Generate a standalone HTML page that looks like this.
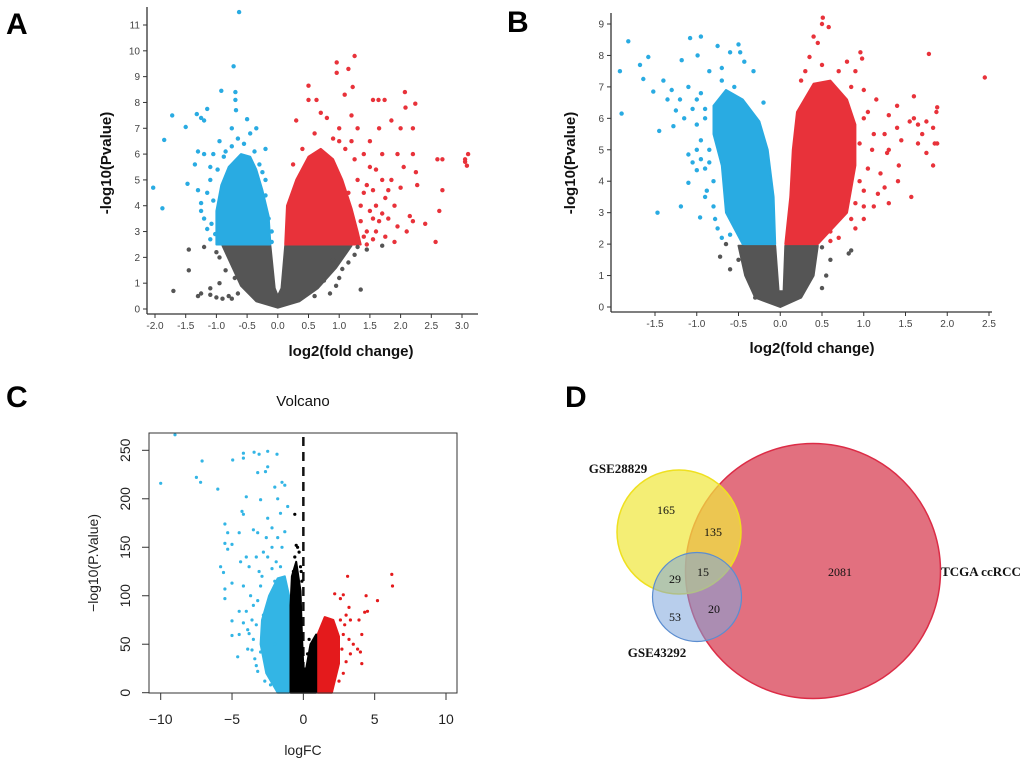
<!DOCTYPE html>
<html><head><meta charset="utf-8"><style>
html,body{margin:0;padding:0;background:#fff;}
svg{display:block;font-family:"Liberation Sans",sans-serif;}
</style></head><body>
<svg id="fig" width="1020" height="763" viewBox="0 0 1020 763">
<text x="6" y="34" font-size="30" font-weight="bold">A</text>
<text x="507" y="32" font-size="30" font-weight="bold">B</text>
<text x="6" y="407" font-size="30" font-weight="bold">C</text>
<text x="565" y="407" font-size="30" font-weight="bold">D</text>
<g id="gA"></g>
<g id="gB"></g>
<g id="gC"></g>
<g id="gD">
<circle cx="813" cy="571" r="127.5" fill="#e06878" fill-opacity="0.95" stroke="#dc2c46" stroke-width="1.5"/>
<circle cx="679" cy="532" r="62" fill="#f0e840" fill-opacity="0.72" stroke="#efe020" stroke-width="1.5"/>
<circle cx="697" cy="597" r="44.5" fill="#7ea6dc" fill-opacity="0.55" stroke="#5b8dd0" stroke-width="1.2"/>
<g font-family="Liberation Serif, serif" font-size="12" text-anchor="middle" fill="#111">
<text x="666" y="514">165</text>
<text x="713" y="536">135</text>
<text x="703" y="576">15</text>
<text x="675" y="583">29</text>
<text x="840" y="576">2081</text>
<text x="714" y="613">20</text>
<text x="675" y="621">53</text>
<text x="618" y="473" font-weight="bold" font-size="13">GSE28829</text>
<text x="657" y="657" font-weight="bold" font-size="13">GSE43292</text>
<text x="981" y="576" font-weight="bold" font-size="13">TCGA ccRCC</text>
</g>
</g>
</svg>
<script>
// ---------- Panel A data ----------
var aXTicks=[-2.0,-1.5,-1.0,-0.5,0.0,0.5,1.0,1.5,2.0,2.5,3.0];
var aYTicks=[0,1,2,3,4,5,6,7,8,9,10,11];
var aBlueCore=[[-1.0,2.5],[-1.0,3.8],[-0.92,4.8],[-0.8,5.5],[-0.6,6.0],[-0.45,5.9],[-0.35,5.4],[-0.25,4.6],[-0.15,3.6],[-0.12,2.5]];
var aRedCore=[[0.12,2.5],[0.15,4.0],[0.3,5.0],[0.5,5.9],[0.7,6.2],[0.9,5.8],[1.05,5.0],[1.2,3.9],[1.3,3.0],[1.35,2.5]];
var aGrayCore=[[-0.9,2.45],[-0.12,2.45],[-0.05,0.8],[0.0,0.5],[0.06,0.8],[0.12,2.45],[1.2,2.45],[0.95,1.6],[0.65,0.8],[0.35,0.3],[0.0,0.05],[-0.35,0.3],[-0.6,0.9]];
var aBlue=[[-0.63,11.5],[-0.72,9.4],[-0.92,8.45],[-0.69,8.4],[-0.69,8.1],[-1.15,7.75],[-1.32,7.55],[-1.72,7.5],[-1.5,7.05],[-1.85,6.55],[-2.03,4.7],[-1.88,3.9],[-1.47,4.85],[-1.3,4.6],[-1.25,4.1],[-1.25,3.8],[-1.35,5.6],[-1.3,6.1],[-1.1,5.5],[-0.68,7.7],[-0.5,7.35],[-0.35,7.0],[-0.2,6.2],[-0.25,5.3],[-1.2,3.5],[-1.15,3.1],[-1.1,2.7],[-0.95,6.5],[-1.05,6.0],[-1.2,7.3],[-1.25,7.4],[-0.75,7.0],[-0.45,6.8],[-0.2,5.0],[-0.15,3.5],[-1.15,4.5],[-1.1,5.0],[-1.2,6.0],[-0.85,6.1],[-0.65,6.6],[-1.05,4.2],[-1.08,3.3],[-1.02,2.9],[-0.98,5.4],[-0.88,5.9],[-0.75,6.3],[-0.55,6.4],[-0.38,6.1],[-0.3,5.6],[-0.2,4.4],[-0.1,3.0],[-0.1,2.6]];
var aRed=[[1.25,9.8],[0.96,9.55],[0.96,9.15],[1.15,9.3],[1.22,8.6],[1.09,8.3],[0.5,8.65],[0.5,8.1],[0.63,8.1],[2.07,8.4],[2.24,7.95],[2.08,7.8],[1.55,8.1],[1.74,8.1],[1.64,8.1],[3.05,5.8],[3.1,6.0],[3.08,5.55],[3.05,5.7],[2.6,5.8],[2.68,5.8],[2.68,4.6],[2.63,3.8],[2.4,3.3],[2.57,2.6],[2.25,5.3],[2.27,4.8],[2.2,6.0],[2.2,3.4],[2.15,3.6],[2.1,3.0],[2.05,5.5],[2.0,4.7],[1.9,2.6],[1.95,3.2],[1.85,5.0],[1.85,7.3],[2.0,7.0],[2.2,7.0],[1.95,6.0],[1.7,6.0],[1.7,5.0],[1.75,4.3],[1.6,3.0],[1.55,2.7],[1.45,2.5],[1.65,7.0],[1.5,6.5],[1.5,5.5],[1.8,3.5],[1.4,4.5],[1.3,5.0],[1.35,3.4],[1.2,7.5],[0.8,7.4],[0.3,7.3],[1.0,7.0],[1.6,4.0],[1.55,3.5],[1.4,6.0],[1.2,6.5],[0.7,7.6],[1.3,7.0],[1.9,4.0],[1.75,2.8],[1.25,5.8],[1.35,4.0],[1.45,3.0],[1.45,4.8],[1.55,4.6],[1.6,5.4],[1.15,4.5],[1.25,3.2],[1.4,2.8],[1.1,6.2],[0.9,6.6],[0.6,6.8],[0.4,6.2],[0.25,5.6],[1.5,3.8],[1.65,3.4],[1.3,2.7],[1.0,6.5],[1.8,4.6],[1.7,3.7]];
var aGray=[[-1.45,2.3],[-1.45,1.5],[-1.7,0.7],[-1.3,0.5],[-1.25,0.6],[-1.1,0.8],[-1.1,0.55],[-1.0,0.45],[-0.9,0.4],[-1.2,2.4],[1.35,0.75],[1.0,1.2],[1.05,1.55],[0.85,0.6],[0.95,0.9],[1.7,2.45],[1.25,2.1],[1.3,2.4],[1.15,1.8],[-0.95,1.0],[-0.75,0.4],[-0.8,0.5],[-1.0,2.2],[1.45,2.3],[-0.95,2.0],[-0.85,1.5],[-0.7,1.2],[-0.65,0.6],[1.1,2.2],[0.9,1.9],[0.75,1.1],[0.6,0.5]];

// ---------- Panel B data ----------
var bXTicks=[-1.5,-1.0,-0.5,0.0,0.5,1.0,1.5,2.0,2.5];
var bYTicks=[0,1,2,3,4,5,6,7,8,9];
var bBlueCore=[[-0.45,2],[-0.65,3.0],[-0.7,4.5],[-0.8,5.5],[-0.8,6.4],[-0.65,6.9],[-0.45,6.6],[-0.25,5.9],[-0.15,5.0],[-0.08,3.5],[-0.06,2.0]];
var bRedCore=[[0.06,2],[0.12,3.5],[0.15,5.0],[0.2,6.2],[0.4,7.1],[0.6,7.2],[0.8,6.6],[0.9,5.8],[0.9,4.5],[0.8,3.0],[0.45,2.0]];
var bGrayCore=[[-0.5,1.95],[-0.06,1.95],[-0.02,0.5],[0.04,0.5],[0.06,1.95],[0.45,1.95],[0.4,1.0],[0.25,0.3],[0.0,0.0],[-0.3,0.3],[-0.42,1.0]];
var bBlue=[[-1.92,7.5],[-1.9,6.15],[-1.82,8.45],[-1.68,7.7],[-1.64,7.25],[-1.58,7.95],[-1.52,6.85],[-1.47,3.0],[-1.45,5.6],[-1.4,7.2],[-1.35,6.6],[-1.3,6.9],[-1.28,5.75],[-1.25,6.25],[-1.19,3.2],[-1.18,7.85],[-1.1,3.95],[-1.08,8.55],[-1.0,4.35],[-0.95,8.6],[-0.99,8.0],[-0.96,2.85],[-0.88,3.7],[-0.75,8.3],[-0.5,8.35],[-0.48,8.1],[-0.6,8.1],[-0.43,7.8],[-0.32,7.5],[-1.1,4.85],[-1.05,4.6],[-1.0,5.0],[-0.95,4.7],[-1.0,5.8],[-1.05,6.3],[-0.9,3.5],[-0.75,2.5],[-0.7,2.2],[-1.15,6.0],[-0.2,6.5],[-0.95,6.8],[-0.85,7.5],[-1.2,6.6],[-0.9,6.0],[-0.95,5.3],[-1.1,7.0],[-0.8,3.2],[-0.8,4.0],[-0.9,4.4],[-0.7,7.6],[-0.85,5.0],[-0.78,2.8],[-0.6,2.3],[-0.7,7.2],[-0.55,7.0],[-0.9,6.3],[-1.0,6.6],[-0.85,4.6]];
var bRed=[[0.51,9.2],[0.5,9.0],[0.58,8.9],[0.4,8.6],[0.45,8.4],[0.35,7.95],[0.5,7.7],[0.96,8.1],[0.98,7.9],[1.78,8.05],[2.45,7.3],[1.6,6.7],[1.88,6.35],[1.87,6.2],[1.83,5.7],[1.85,5.2],[1.88,5.2],[1.83,4.5],[1.75,4.9],[1.65,5.2],[1.57,3.5],[1.41,4.0],[1.42,4.5],[1.3,3.3],[1.25,3.8],[1.17,3.6],[1.12,3.2],[1.2,4.25],[1.28,4.9],[1.3,5.0],[1.45,5.3],[1.4,5.7],[1.4,6.4],[1.3,6.1],[1.55,5.9],[1.65,5.8],[1.7,5.5],[1.75,5.9],[1.6,6.0],[1.25,5.5],[1.12,5.5],[1.15,6.6],[1.0,6.9],[1.1,5.0],[1.05,4.4],[1.0,3.7],[1.0,2.8],[0.9,2.5],[0.7,2.2],[0.6,2.1],[0.9,7.5],[0.8,7.8],[0.25,7.2],[1.05,6.2],[1.0,3.2],[0.95,5.2],[0.95,4.0],[0.9,3.3],[1.0,6.0],[0.85,7.0],[0.7,7.5],[0.3,7.5],[0.6,2.4],[0.85,2.8]];
var bGray=[[-0.72,1.6],[-0.65,2.0],[0.85,1.8],[0.82,1.7],[0.6,1.5],[0.55,1.0],[-0.5,1.5],[-0.3,0.3],[-0.6,1.2],[0.5,0.6],[-0.45,1.9],[0.5,1.9]];

// ---------- Panel C data ----------
var cXTicks=[-10,-5,0,5,10];
var cYTicks=[0,50,100,150,200,250];
var cBlackCore=[[-0.9,0],[-0.9,90],[-0.8,120],[-0.5,135],[-0.2,105],[-0.1,60],[0,25],[0.2,25],[0.5,50],[0.9,60],[0.9,0]];
var cBlueCore=[[-1.0,0],[-1.8,0],[-2.6,20],[-3.0,50],[-2.9,75],[-2.4,100],[-1.8,118],[-1.3,120],[-1.0,100]];
var cRedCore=[[1.0,0],[2.0,0],[2.5,30],[2.5,58],[2.1,75],[1.5,78],[1.0,60]];
var cBlue=[[-9,266],[-10,216],[-7.5,222],[-7.2,217],[-6,210],[-7.1,239],[-4.95,240],[-4.2,242],[-4.2,247],[-3.45,248],[-3.1,246],[-2.5,249],[-1.85,246],[-2.65,228],[-2.5,233],[-3.2,227],[-1.5,217],[-1.3,214],[-2.0,212],[-4.0,202],[-3.0,199],[-1.1,192],[-4.3,187],[-4.2,184],[-2.5,180],[-1.6,185],[-1.8,200],[-5.5,174],[-5.3,165],[-5.0,153],[-5.5,154],[-4.5,165],[-3.5,168],[-3.2,165],[-2.2,170],[-1.8,160],[-1.3,166],[-4.0,140],[-4.4,135],[-3.8,130],[-5.3,148],[-5.8,130],[-5.6,124],[-5.0,113],[-5.5,107],[-5.5,97],[-5.0,74],[-4.2,72],[-4.5,60],[-5.0,59],[-4.6,37],[-3.8,61],[-3.6,44],[-3.2,22],[-3.3,28],[-2.2,150],[-1.5,150],[-2.8,145],[-3.0,110],[-2.0,115],[-3.5,90],[-4.0,84],[-4.5,84],[-3.7,100],[-2.8,80],[-3.5,55],[-3.0,42],[-2.0,50],[-3.3,70],[-2.5,140],[-1.9,135],[-3.1,125],[-4.2,110],[-3.9,45],[-2.6,160],[-3.2,95],[-3.6,75],[-3.9,65],[-2.7,12],[-2.3,8],[-3.4,35],[-2.2,128],[-1.6,130],[-2.9,120],[-3.3,140]];
var cRed=[[3.1,120],[6.2,122],[6.25,110],[5.2,95],[4.4,100],[4.3,83],[4.5,84],[4.1,60],[4.0,42],[4.1,30],[3.8,45],[3.2,55],[2.8,101],[2.6,97],[2.2,102],[3.2,88],[3.3,75],[3.9,75],[3.3,40],[3.0,32],[2.8,20],[2.5,12],[3.5,50],[2.9,70],[3.0,80],[2.7,45],[2.8,60],[2.6,75]];
var cBlack=[[-0.6,184],[-0.5,152],[-0.3,145],[-0.2,130],[-0.15,125],[-0.1,115],[-0.6,140],[0.4,55],[0.3,40],[-0.4,150],[-0.7,125]];

var NS="http://www.w3.org/2000/svg";
function mk(tag,attrs,parent){var e=document.createElementNS(NS,tag);for(var k in attrs)e.setAttribute(k,attrs[k]);parent.appendChild(e);return e;}
function lin(d0,d1,p0,p1){return function(v){return p0+(v-d0)*(p1-p0)/(d1-d0);};}
function poly(pts,sx,sy,fill,g,name){
  var s=pts.map(function(p){return sx(p[0]).toFixed(1)+","+sy(p[1]).toFixed(1);}).join(" ");
  var e=mk("polygon",{points:s,fill:fill,stroke:fill,"stroke-width":2,"stroke-linejoin":"round"},g);
  
  
}
function dots(pts,sx,sy,r,fill,g,name){
  pts.forEach(function(p){
    var c=mk("circle",{cx:sx(p[0]).toFixed(1),cy:sy(p[1]).toFixed(1),r:r,fill:fill},g);
    
    
  });
}

function volcanoAB(g,cfg){
  var sx=cfg.sx, sy=cfg.sy;
  poly(cfg.grayCore,sx,sy,"#555555",g,"gray-density-region");
  poly(cfg.blueCore,sx,sy,"#29abe2",g,"blue-density-region");
  poly(cfg.redCore,sx,sy,"#e8323a",g,"red-density-region");
  dots(cfg.gray,sx,sy,2.2,"#555555",g,"gray-point");
  dots(cfg.blue,sx,sy,2.2,"#29abe2",g,"blue-point");
  dots(cfg.red,sx,sy,2.2,"#e8323a",g,"red-point");
  var ya=mk("line",{x1:cfg.ax,y1:cfg.top,x2:cfg.ax,y2:cfg.ay,stroke:"#333","stroke-width":1.3},g);
  
  
  var xa=mk("line",{x1:cfg.ax,y1:cfg.ay,x2:cfg.right,y2:cfg.ay,stroke:"#333","stroke-width":1.3},g);
  
  
  cfg.yTicks.forEach(function(t){
    var y=sy(t);
    var l=mk("line",{x1:cfg.ax-4,y1:y,x2:cfg.ax,y2:y,stroke:"#333","stroke-width":1},g);
    
    
    var tx=mk("text",{x:cfg.ax-7,y:y+3.5,"font-size":10,fill:"#444","text-anchor":"end"},g);
    tx.textContent=String(t);
    
    
  });
  cfg.xTicks.forEach(function(t){
    var x=sx(t);
    var l=mk("line",{x1:x,y1:cfg.ay,x2:x,y2:cfg.ay+4,stroke:"#333","stroke-width":1},g);
    
    
    var tx=mk("text",{x:x,y:cfg.ay+15,"font-size":10,fill:"#444","text-anchor":"middle"},g);
    tx.textContent=t.toFixed(1);
    
    
  });
  var xt=mk("text",{x:cfg.xtx,y:cfg.xty,"font-size":15,"font-weight":"bold","text-anchor":"middle",fill:"#111"},g);
  xt.textContent="log2(fold change)";
  
  
  var yt=mk("text",{x:0,y:0,"font-size":15,"font-weight":"bold","text-anchor":"middle",fill:"#111",transform:"translate("+cfg.ytx+","+cfg.yty+") rotate(-90)"},g);
  yt.textContent="-log10(Pvalue)";
  
  
}
volcanoAB(document.getElementById("gA"),{
  sx:lin(-2,3,155,462), sy:lin(0,11,309,25),
  ax:147, ay:314, top:7, right:478,
  xTicks:aXTicks, yTicks:aYTicks,
  blueCore:aBlueCore, redCore:aRedCore, grayCore:aGrayCore,
  blue:aBlue, red:aRed, gray:aGray,
  xtx:351, xty:356, ytx:111, yty:163
});
volcanoAB(document.getElementById("gB"),{
  sx:lin(-1.5,2.5,655,989), sy:lin(0,9,307,24),
  ax:611, ay:312, top:13, right:992,
  xTicks:bXTicks, yTicks:bYTicks,
  blueCore:bBlueCore, redCore:bRedCore, grayCore:bGrayCore,
  blue:bBlue, red:bRed, gray:bGray,
  xtx:812, xty:353, ytx:575, yty:163
});

(function(){
  var g=document.getElementById("gC");
  var sx=lin(-10,10,160.7,446), sy=lin(0,250,692.7,450.3);
  var L=149,R=457,T=433,B=693;
  var dl=mk("line",{x1:sx(0),y1:T+4,x2:sx(0),y2:B,stroke:"#111","stroke-width":2.5,"stroke-dasharray":"9,6"},g);
  
  
  poly(cBlueCore,sx,sy,"#33b5e5",g,"blue-density-region");
  poly(cRedCore,sx,sy,"#e41a1c",g,"red-density-region");
  poly(cBlackCore,sx,sy,"#000000",g,"black-density-region");
  dots(cBlue,sx,sy,1.6,"#33b5e5",g,"blue-point");
  dots(cRed,sx,sy,1.6,"#e41a1c",g,"red-point");
  dots(cBlack,sx,sy,1.6,"#000000",g,"black-point");
  var box=mk("rect",{x:L,y:T,width:R-L,height:B-T,fill:"none",stroke:"#333","stroke-width":1},g);
  
  
  cXTicks.forEach(function(t){
    var x=sx(t);
    var l=mk("line",{x1:x,y1:B,x2:x,y2:B+7,stroke:"#333","stroke-width":1},g);
    
    
    var tx=mk("text",{x:x,y:B+31,"font-size":14,fill:"#222","text-anchor":"middle"},g);
    tx.textContent=(t<0?"\u2212"+(-t):String(t));
    
    
  });
  var xl=mk("line",{x1:sx(-10),y1:B,x2:sx(10),y2:B,stroke:"#333","stroke-width":1},g);
  
  
  cYTicks.forEach(function(t){
    var y=sy(t);
    var l=mk("line",{x1:L-7,y1:y,x2:L,y2:y,stroke:"#333","stroke-width":1},g);
    
    
    var tx=mk("text",{x:0,y:0,"font-size":14,fill:"#222","text-anchor":"middle",transform:"translate(130,"+y+") rotate(-90)"},g);
    tx.textContent=String(t);
    
    
  });
  var ti=mk("text",{x:303,y:406,"font-size":15,fill:"#111","text-anchor":"middle"},g);
  ti.textContent="Volcano";
  
  
  var xt=mk("text",{x:303,y:755,"font-size":14,fill:"#222","text-anchor":"middle"},g);
  xt.textContent="logFC";
  
  
  var yt=mk("text",{x:0,y:0,"font-size":14,fill:"#222","text-anchor":"middle",transform:"translate(98,563) rotate(-90)"},g);
  yt.textContent="\u2212log10(P.Value)";
  
  
})();
</script>
</body></html>
